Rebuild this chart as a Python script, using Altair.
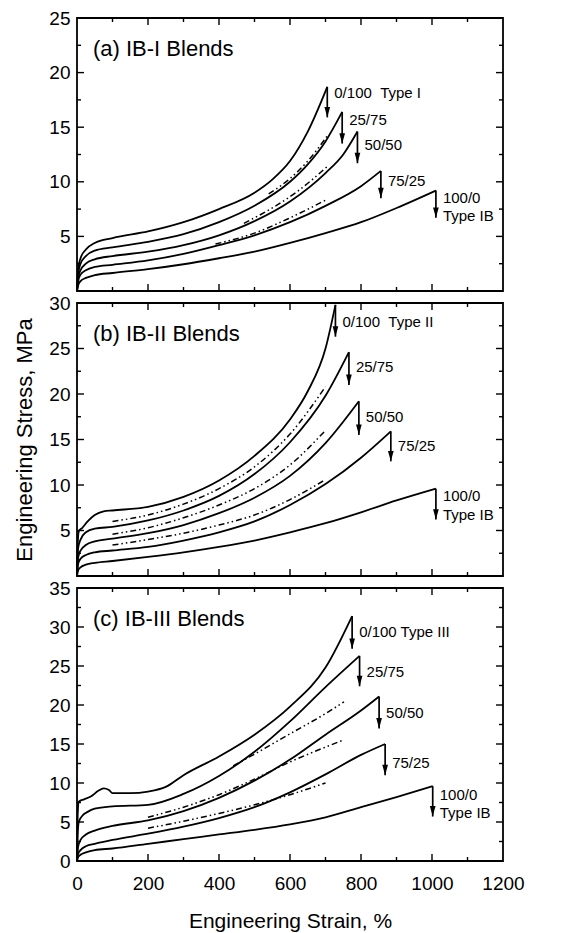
import altair as alt
import pandas as pd

FONT = "Liberation Sans"
W, H = 426, 273

blends = ["0/100", "25/75", "50/50", "75/25", "100/0"]

# ---- (a) IB-I blends: measured curves (strain %, stress MPa) ----
a_strain = {
    "0/100": [0, 4, 10, 25, 50, 100, 200, 300, 400, 500, 550, 600, 650, 705],
    "25/75": [0, 4, 10, 25, 50, 100, 200, 300, 400, 500, 600, 650, 700, 747],
    "50/50": [0, 4, 10, 25, 50, 100, 200, 300, 400, 500, 600, 700, 750, 790],
    "75/25": [0, 4, 10, 25, 50, 100, 200, 300, 400, 500, 600, 700, 800, 856],
    "100/0": [0, 4, 10, 25, 50, 100, 200, 300, 400, 500, 600, 700, 800, 900, 1011],
}
a_stress = {
    "0/100": [0, 2.2, 3.0, 3.8, 4.4, 4.85, 5.45, 6.3, 7.5, 9.0, 10.2, 11.9, 14.6, 18.7],
    "25/75": [0, 1.7, 2.5, 3.2, 3.7, 4.0, 4.5, 5.2, 6.3, 7.8, 10.0, 11.6, 13.7, 16.4],
    "50/50": [0, 1.3, 1.9, 2.5, 2.9, 3.2, 3.6, 4.2, 5.1, 6.4, 8.2, 10.8, 12.5, 14.6],
    "75/25": [0, 1.0, 1.5, 1.9, 2.2, 2.4, 2.8, 3.4, 4.2, 5.1, 6.3, 7.8, 9.6, 11.0],
    "100/0": [0, 0.6, 0.9, 1.2, 1.45, 1.65, 2.0, 2.45, 3.0, 3.6, 4.4, 5.3, 6.3, 7.6, 9.2],
}
a_model_strain = [[540, 600, 650, 705], [470, 560, 620, 705], [390, 500, 600, 705]]
a_model_stress = [[8.9, 10.3, 11.9, 14.2], [6.2, 7.8, 9.1, 11.4], [4.3, 5.3, 6.7, 8.4]]
a_break_strain = [705, 747, 790, 856, 1011]
a_break_stress = [18.7, 16.4, 14.6, 11.0, 9.2]
a_arrow_tip = [15.9, 13.5, 11.7, 8.5, 6.7]
a_labels = ["0/100\u00a0\u00a0Type I", "25/75", "50/50", "75/25", "100/0", "Type IB"]
a_label_strain = [705, 747, 790, 856, 1011, 1011]
a_label_stress = [18.1, 15.7, 13.4, 10.1, 8.5, 6.9]

# ---- (b) IB-II blends ----
b_strain = {
    "0/100": [0, 2, 5, 15, 30, 50, 75, 100, 200, 300, 400, 500, 600, 650, 700, 728],
    "25/75": [0, 3, 10, 25, 50, 100, 200, 300, 400, 500, 600, 700, 766],
    "50/50": [0, 3, 10, 25, 50, 100, 200, 300, 400, 500, 600, 700, 794],
    "75/25": [0, 3, 10, 25, 50, 100, 200, 300, 400, 500, 600, 700, 800, 884],
    "100/0": [0, 3, 10, 25, 50, 100, 200, 300, 400, 500, 600, 700, 800, 900, 1011],
}
b_stress = {
    "0/100": [0, 3.5, 4.9, 5.3, 6.0, 6.7, 7.1, 7.2, 7.6, 8.7, 10.5, 13.2, 17.2, 20.3, 25.0, 29.8],
    "25/75": [0, 3.0, 4.0, 4.8, 5.2, 5.4, 6.1, 7.2, 8.8, 11.2, 14.7, 19.8, 24.6],
    "50/50": [0, 2.0, 2.8, 3.4, 3.8, 4.1, 4.7, 5.6, 6.9, 8.6, 11.0, 14.6, 19.2],
    "75/25": [0, 1.3, 1.9, 2.3, 2.6, 2.8, 3.2, 3.9, 4.8, 6.0, 7.8, 10.1, 13.0, 15.9],
    "100/0": [0, 0.6, 0.95, 1.25, 1.45, 1.65, 2.1, 2.6, 3.2, 3.9, 4.8, 5.8, 7.0, 8.3, 9.6],
}
b_model_strain = [[100, 200, 300, 400, 500, 600, 700]] * 3
b_model_stress = [
    [6.0, 6.7, 7.9, 9.6, 12.0, 15.6, 20.8],
    [4.6, 5.3, 6.4, 7.8, 9.6, 12.2, 16.0],
    [3.4, 4.0, 4.7, 5.6, 6.7, 8.4, 10.6],
]
b_break_strain = [728, 766, 794, 884, 1011]
b_break_stress = [29.8, 24.6, 19.2, 15.9, 9.6]
b_arrow_tip = [26.3, 21.0, 15.5, 12.6, 6.2]
b_labels = ["0/100\u00a0\u00a0Type II", "25/75", "50/50", "75/25", "100/0", "Type IB"]
b_label_strain = [728, 766, 794, 884, 1011, 1011]
b_label_stress = [27.9, 23.0, 17.5, 14.3, 8.8, 6.7]

# ---- (c) IB-III blends ----
c_strain = {
    "0/100": [0, 2, 5, 20, 40, 60, 75, 90, 100, 150, 200, 250, 300, 400, 500, 600, 700, 775],
    "25/75": [0, 2, 5, 15, 30, 50, 100, 200, 300, 400, 500, 600, 700, 796],
    "50/50": [0, 3, 10, 25, 50, 100, 200, 300, 400, 500, 600, 700, 800, 851],
    "75/25": [0, 3, 10, 25, 50, 100, 200, 300, 400, 500, 600, 700, 800, 868],
    "100/0": [0, 3, 10, 25, 50, 100, 200, 300, 400, 500, 600, 700, 800, 900, 1002],
}
c_stress = {
    "0/100": [0, 6.0, 7.6, 7.9, 8.3, 9.0, 9.3, 9.1, 8.7, 8.7, 8.9, 9.5, 11.0, 13.4, 16.2, 19.8, 24.8, 31.4],
    "25/75": [0, 3.5, 5.0, 5.8, 6.3, 6.7, 7.0, 7.2, 8.6, 10.9, 14.0, 17.9, 22.3, 26.3],
    "50/50": [0, 1.8, 2.7, 3.4, 3.9, 4.5, 5.2, 6.4, 8.1, 10.3, 13.0, 16.2, 19.3, 21.1],
    "75/25": [0, 0.9, 1.4, 1.9, 2.2, 2.7, 3.5, 4.4, 5.5, 6.9, 8.8, 11.1, 13.6, 15.0],
    "100/0": [0, 0.5, 0.8, 1.1, 1.4, 1.6, 2.2, 2.8, 3.4, 4.0, 4.7, 5.6, 6.9, 8.2, 9.6],
}
c_model_strain = [[440, 500, 600, 700, 752], [200, 300, 400, 500, 600, 700, 750], [200, 300, 400, 500, 600, 700]]
c_model_stress = [
    [12.2, 13.7, 16.3, 18.9, 20.4],
    [5.6, 6.9, 8.5, 10.5, 12.7, 14.6, 15.5],
    [4.2, 5.1, 6.1, 7.2, 8.5, 10.0],
]
c_break_strain = [775, 796, 851, 868, 1002]
c_break_stress = [31.4, 26.3, 21.1, 15.0, 9.6]
c_arrow_tip = [27.2, 22.4, 17.0, 11.0, 5.7]
c_labels = ["0/100 Type III", "25/75", "50/50", "75/25", "100/0", "Type IB"]
c_label_strain = [775, 796, 851, 868, 1002, 1002]
c_label_stress = [29.4, 24.2, 19.0, 12.6, 8.5, 6.1]

X_TICKS = [0, 200, 400, 600, 800, 1000, 1200]


def curves_frame(strain, stress):
    rows = []
    for name in blends:
        for i, (x, y) in enumerate(zip(strain[name], stress[name])):
            rows.append({"series": name, "i": i, "strain": x, "stress": y})
    return pd.DataFrame(rows)


def model_frame(strain, stress):
    rows = []
    for k, (xs, ys) in enumerate(zip(strain, stress)):
        for i, (x, y) in enumerate(zip(xs, ys)):
            rows.append({"series": f"m{k}", "i": i, "strain": x, "stress": y})
    return pd.DataFrame(rows)


def panel(title, strain, stress, m_strain, m_stress, brk_x, brk_y, tip_y,
          labels, lab_x, lab_y, ymax, y_values, bottom, y_title):
    xscale = alt.Scale(domain=[0, 1200], nice=False, zero=True)
    yscale = alt.Scale(domain=[0, ymax], nice=False, zero=True)
    if bottom:
        xaxis = alt.Axis(values=X_TICKS, format="d", title="Engineering Strain, %",
                         labelPadding=13, titlePadding=17, labelOverlap=False,
                         labelFlush=False)
    else:
        xaxis = None
    if y_title:
        yaxis = alt.Axis(values=y_values, title="Engineering Stress, MPa",
                         titlePadding=12, labelPadding=7, labelOverlap=False,
                         titleFontSize=22)
    else:
        yaxis = alt.Axis(values=y_values, title=None, labelPadding=7,
                         labelOverlap=False)

    X = alt.X("strain:Q", scale=xscale, axis=xaxis)
    Y = alt.Y("stress:Q", scale=yscale, axis=yaxis)

    curves = alt.Chart(curves_frame(strain, stress)).mark_line(
        color="black", strokeWidth=1.8, interpolate="monotone"
    ).encode(x=X, y=Y, detail="series:N", order="i:Q")

    model = alt.Chart(model_frame(m_strain, m_stress)).mark_line(
        color="black", strokeWidth=1.5, strokeDash=[6, 3, 1.5, 3, 1.5, 3],
        interpolate="monotone"
    ).encode(x=X, y=Y, detail="series:N", order="i:Q")

    brk = pd.DataFrame({"strain": brk_x, "stress": brk_y, "tip": tip_y})
    shafts = alt.Chart(brk).mark_rule(color="black", strokeWidth=1.7).encode(
        x=X, y=Y, y2="tip:Q"
    )
    heads = alt.Chart(brk).mark_point(
        shape="M-0.6,-2.2L0.6,-2.2L0,0Z", filled=True, color="black",
        size=90, opacity=1, strokeWidth=0
    ).encode(x=X, y=alt.Y("tip:Q", scale=yscale, axis=yaxis))

    lab = pd.DataFrame({"text": labels, "strain": lab_x, "stress": lab_y})
    texts = alt.Chart(lab).mark_text(
        align="left", baseline="middle", dx=7, fontSize=15, font=FONT, color="black"
    ).encode(x=X, y=Y, text="text:N")

    head = alt.Chart(pd.DataFrame({"t": [title]})).mark_text(
        align="left", baseline="middle", fontSize=22, font=FONT, color="black"
    ).encode(x=alt.value(16), y=alt.value(31), text="t:N")

    # inward tick marks on all four sides
    xt_major = pd.DataFrame({"strain": [200, 400, 600, 800, 1000]})
    xt_minor = pd.DataFrame({"strain": [100, 300, 500, 700, 900, 1100]})
    nmaj = int(ymax // 5)
    yt_major = pd.DataFrame({"stress": [5 * k for k in range(1, nmaj)]})
    yt_minor = pd.DataFrame({"stress": [5 * k + 2.5 for k in range(0, nmaj)]})
    tick_layers = []
    for df, L in ((xt_major, 7), (xt_minor, 4)):
        base = alt.Chart(df).mark_rule(color="black", strokeWidth=1.4)
        tick_layers.append(base.encode(x=X, y=alt.value(H), y2=alt.value(H - L)))
        tick_layers.append(base.encode(x=X, y=alt.value(0), y2=alt.value(L)))
    for df, L in ((yt_major, 7), (yt_minor, 4)):
        base = alt.Chart(df).mark_rule(color="black", strokeWidth=1.4)
        tick_layers.append(base.encode(y=Y, x=alt.value(0), x2=alt.value(L)))
        tick_layers.append(base.encode(y=Y, x=alt.value(W), x2=alt.value(W - L)))

    return alt.layer(curves, model, shafts, heads, texts, head, *tick_layers).properties(
        width=W, height=H
    )


pa = panel("(a) IB-I Blends", a_strain, a_stress, a_model_strain, a_model_stress,
           a_break_strain, a_break_stress, a_arrow_tip, a_labels, a_label_strain,
           a_label_stress, 25, [5, 10, 15, 20, 25], False, False)
pb = panel("(b) IB-II Blends", b_strain, b_stress, b_model_strain, b_model_stress,
           b_break_strain, b_break_stress, b_arrow_tip, b_labels, b_label_strain,
           b_label_stress, 30, [5, 10, 15, 20, 25, 30], False, True)
pc = panel("(c) IB-III Blends", c_strain, c_stress, c_model_strain, c_model_stress,
           c_break_strain, c_break_stress, c_arrow_tip, c_labels, c_label_strain,
           c_label_stress, 35, [0, 5, 10, 15, 20, 25, 30, 35], True, False)

chart = alt.vconcat(pa, pb, pc, spacing=12, bounds="flush").configure_view(
    stroke="black", strokeWidth=1.8
).configure_axis(
    labelFont=FONT, titleFont=FONT, labelFontSize=19, titleFontSize=21,
    titleFontWeight="normal", labelColor="black", titleColor="black",
    domain=False, ticks=False, grid=False
).properties(
    padding={"left": 12, "top": 8, "right": 10, "bottom": 4},
    background="white"
)

chart.save("out.html", embed_options={"renderer": "svg", "actions": False})
